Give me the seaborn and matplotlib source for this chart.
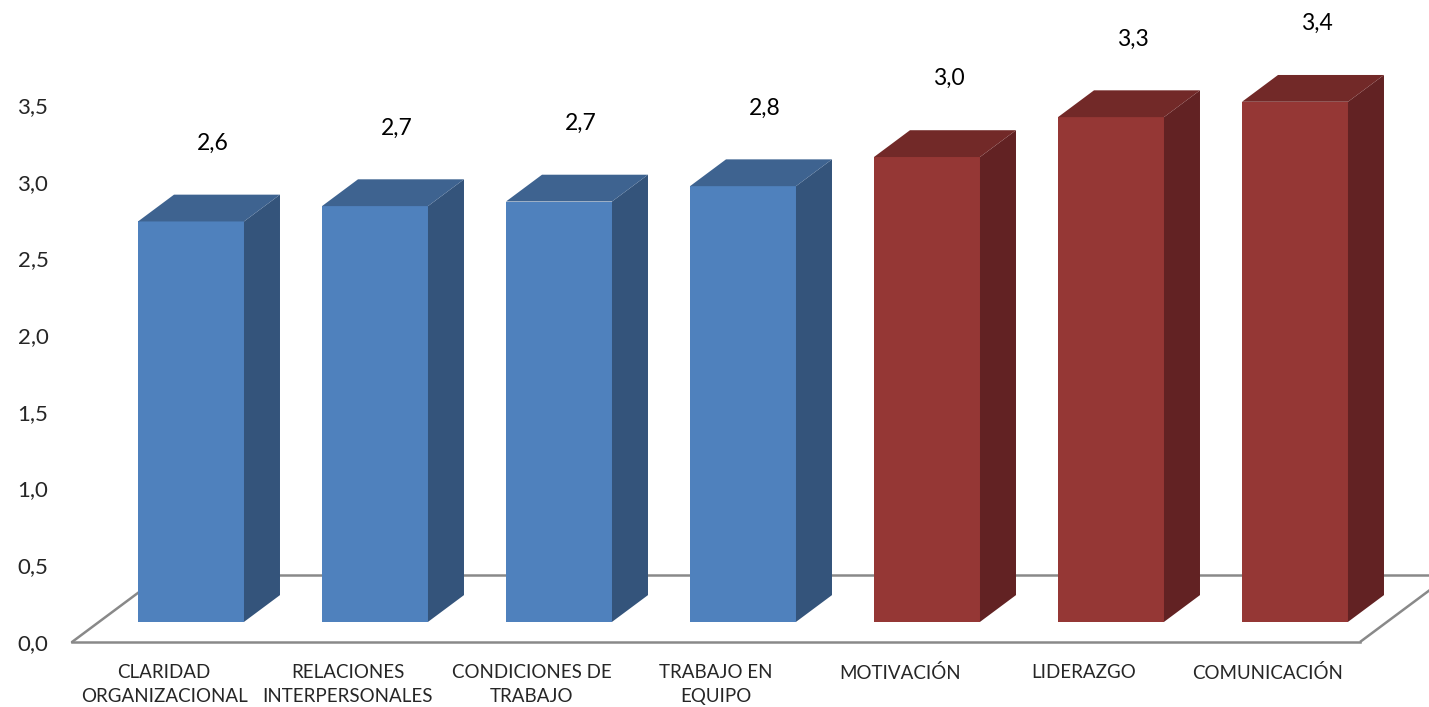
import numpy as np
import pandas as pd
import matplotlib
matplotlib.use("Agg")
import matplotlib.pyplot as plt
from matplotlib.patches import Polygon
import seaborn as sns

# ---- data ----
categories = ["CLARIDAD\nORGANIZACIONAL", "RELACIONES\nINTERPERSONALES",
              "CONDICIONES DE\nTRABAJO", "TRABAJO EN\nEQUIPO",
              "MOTIVACIÓN", "LIDERAZGO", "COMUNICACIÓN"]
values = [2.61, 2.71, 2.74, 2.84, 3.03, 3.29, 3.39]
value_labels = ["2,6", "2,7", "2,7", "2,8", "3,0", "3,3", "3,4"]
groups = ["low", "low", "low", "low", "high", "high", "high"]
yticks = [0.0, 0.5, 1.0, 1.5, 2.0, 2.5, 3.0, 3.5]
ytick_labels = ["0,0", "0,5", "1,0", "1,5", "2,0", "2,5", "3,0", "3,5"]

# ---- style ----
front = {"low": "#4F81BD", "high": "#953735"}
side = {"low": "#34547B", "high": "#622223"}
top = {"low": "#3E6390", "high": "#722928"}
floor_color = "#898989"

sns.set_style("white")
plt.rcParams["font.family"] = ["Lato", "DejaVu Sans"]

W, H = 1429, 707
fig = plt.figure(figsize=(W / 100, H / 100), dpi=100)
# axes: x from -0.5..6.5 at px 72..1360, y 0..3.5 at px 642..105
ax = fig.add_axes([72 / W, (H - 642) / H, (1360 - 72) / W, (642 - 105) / H])

df = pd.DataFrame({"cat": categories, "value": values, "group": groups})
palette = [front[g] for g in groups]
sns.barplot(data=df, x="cat", y="value", hue="cat", palette=palette,
            legend=False, width=0.576, linewidth=0, saturation=1,
            errorbar=None, ax=ax, zorder=2)

ax.set_xlim(-0.5, 6.5)
ax.set_ylim(0, 3.5)

# depth vector of the floor (data units)
DX, DY = 90 / 184, 67 / 153.43
bar_depth = 0.4

for patch, g, lab in zip(ax.patches, groups, value_labels):
    x0 = patch.get_x() + 0.3 * DX
    w = patch.get_width()
    h = patch.get_height()
    y0 = 0.3 * DY
    patch.set_x(x0)
    patch.set_y(y0)
    patch.set_clip_on(False)
    x1 = x0 + w
    y1 = y0 + h
    ddx, ddy = bar_depth * DX, bar_depth * DY
    ax.add_patch(Polygon([(x1, y0), (x1 + ddx, y0 + ddy), (x1 + ddx, y1 + ddy), (x1, y1)],
                         closed=True, facecolor=side[g], edgecolor="none", zorder=2, clip_on=False))
    ax.add_patch(Polygon([(x0, y1), (x1, y1), (x1 + ddx, y1 + ddy), (x0 + ddx, y1 + ddy)],
                         closed=True, facecolor=top[g], edgecolor="none", zorder=2, clip_on=False))
    ax.text(x0 + w / 2 + 0.5 * ddx + 0.02, y1 + 0.51, lab, ha="center", va="center",
            fontsize=16.5, color="black", clip_on=False)

# floor outline (back and sides)
fx0, fx1 = -0.5, 6.5
ax.plot([fx0, fx0 + DX], [0, DY], color=floor_color, lw=1.8, zorder=1, clip_on=False)
ax.plot([fx0 + DX, fx1 + DX], [DY, DY], color=floor_color, lw=1.8, zorder=1, clip_on=False)
ax.plot([fx1, fx1 + DX], [0, DY], color=floor_color, lw=1.8, zorder=1, clip_on=False,
        solid_capstyle="butt")

# spines
for s in ["top", "right", "left"]:
    ax.spines[s].set_visible(False)
ax.spines["bottom"].set_color(floor_color)
ax.spines["bottom"].set_linewidth(1.8)

ax.set_yticks(yticks)
ax.set_yticklabels(ytick_labels, fontsize=16)
ax.set_xticks(range(len(categories)))
ax.set_xticklabels(categories, fontsize=13.5, linespacing=1.45)
ax.tick_params(axis="y", length=0, pad=17)
ax.tick_params(axis="x", length=0, pad=16)
ax.set_xlabel("")
ax.set_ylabel("")
ax.grid(False)

fig.savefig("out.png", dpi=100)
